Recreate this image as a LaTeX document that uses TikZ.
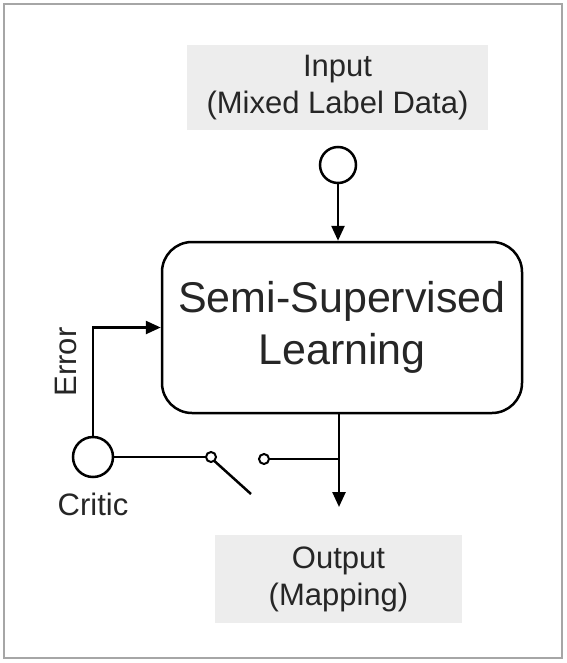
\documentclass[tikz,border=0pt]{standalone}
\usepackage{fontspec}
\setmainfont{Liberation Sans}
\usetikzlibrary{arrows.meta,calc}
\begin{document}
\begin{tikzpicture}[x=1pt,y=-1pt,
  lbl/.style={font=\fontsize{31}{37}\selectfont, text=black!85},
  iobox/.style={lbl, fill=black!7, draw=none, align=center, inner sep=0pt},
  port/.style={circle, draw, line width=2.5pt, fill=white, inner sep=0pt},
  contact/.style={circle, draw, line width=2pt, fill=white, inner sep=0pt, minimum size=10pt},
  wire/.style={line width=2.5pt},
  arr/.style={wire, -{Triangle[length=15pt,width=13pt]}}
]
\useasboundingbox (0,0) rectangle (566,663);
\draw[black!35, line width=2pt] (4,4) rectangle (562,658);

\node[iobox, minimum width=301pt, minimum height=85pt] (inp) at (337.5,88) {Input\\(Mixed Label Data)};
\node[port, minimum size=36pt] (inc) at (338,165) {};
\node[draw, line width=2.5pt, rounded corners=30pt, minimum width=360pt, minimum height=171pt,
      align=center, font=\fontsize{43}{52}\selectfont, text=black!85] (main) at (342,327.5) {Semi-Supervised\\Learning};
\node[port, minimum size=40pt] (critic) at (93,457) {};
\node[lbl, anchor=north] (criticlbl) at (93,489) {Critic};
\node[lbl, rotate=90] (errlbl) at (66,362) {Error};
\node[contact] (sw1) at (211,457) {};
\node[contact] (sw2) at (264,459) {};
\coordinate (armend) at (251,494);
\coordinate (J) at (339,459);
\coordinate (tip) at (339,507);
\node[iobox, minimum width=247pt, minimum height=88pt] (out) at (338.5,579) {Output\\(Mapping)};

\draw[arr] (inc.south) -- (inc.south |- main.north);
\draw[arr] (critic.north) |- (main.west);
\draw[wire] (critic.east) -- (sw1.west);
\draw[wire] (sw1.center) ++(-50:5pt) -- (armend);
\draw[wire] (sw2.east) -- (J);
\draw[arr] (main.south -| J) -- (tip);
\end{tikzpicture}
\end{document}
